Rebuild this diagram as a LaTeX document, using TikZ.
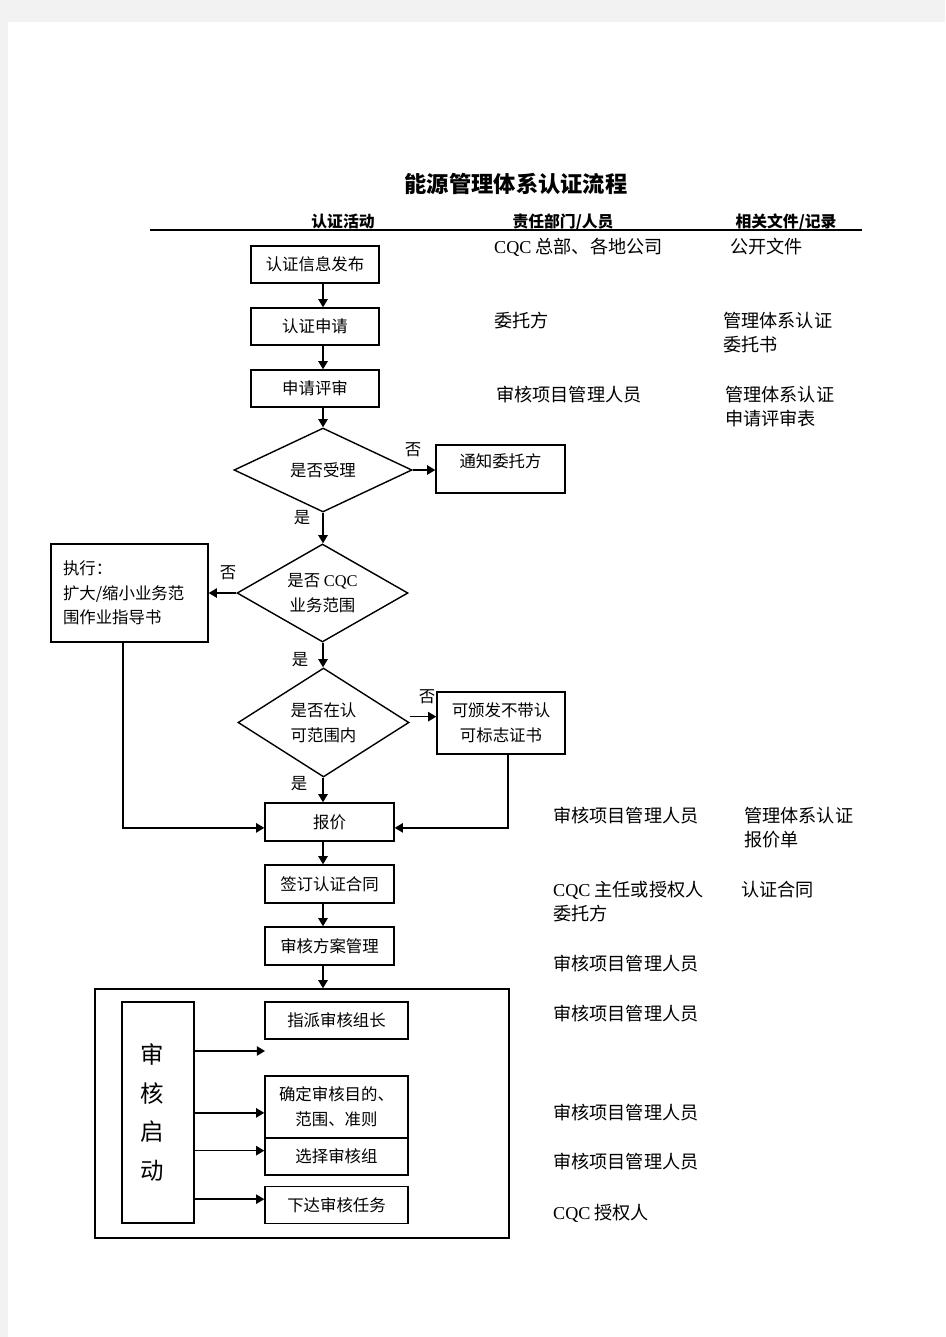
\documentclass[tikz,border=0pt]{standalone}
\usepackage{fontspec}
\setmainfont{Noto Sans CJK SC}
\newfontfamily\serif{Liberation Serif}
\usetikzlibrary{shapes.geometric,arrows.meta}

\begin{document}
\begin{tikzpicture}[x=0.03cm, y=-0.03cm,
		wh/.style 2 args={minimum width=#1*0.03cm, minimum height=#2*0.03cm},
		box/.style={draw, line width=1.2pt, rectangle, inner sep=0pt, align=center, font=\fontsize{14}{21}\selectfont},
		dia/.style={draw, line width=1.2pt, diamond, inner sep=0pt, align=center, font=\fontsize{14}{21}\selectfont},
		flow/.style={line width=1.3pt, -{Triangle[length=7pt, width=8pt]}},
		tag/.style={inner sep=0pt, font=\fontsize{14}{14}\selectfont},
		note/.style={anchor=west, inner sep=0pt, align=left, font=\fontsize{15.5}{20.5}\selectfont},
		head/.style={anchor=base, inner sep=0pt, font=\fontsize{13.5}{13.5}\bfseries}]

		\pgfmathsetmacro{\axis}{323}
		\pgfmathsetmacro{\cola}{553}
		\pgfmathsetmacro{\colb}{744}

		% page
		\useasboundingbox (0,0) rectangle (945,1337);
		\fill[black!5] (0,0) rectangle (945,1337);
		\fill[white] (8,22) rectangle (945,1337);

		% title and header
		\node[inner sep=0pt, font=\fontsize{19}{19}\bfseries] (title) at (516,184) {能源管理体系认证流程};
		\node[head] (hact) at (343,227) {认证活动};
		\node[head] (hdep) at (563,227) {责任部门/人员};
		\node[head] (hdoc) at (786,227) {相关文件/记录};
		\draw[line width=1pt] (150,230) -- (862,230);

		% draw the flow
		\node[box, wh={128}{37}] (publish) at (315,264.5) {认证信息发布};
		\node[box, wh={128}{37}] (apply) at (315,326.5) {认证申请};
		\node[box, wh={128}{37}] (review) at (315,388.5) {申请评审};
		\node[dia, aspect=2.1, wh={178}{84}] (accept) at (\axis,470) {是否受理};
		\node[box, wh={129}{48}, text depth=14pt] (notify) at (500.5,469) {通知委托方};
		\node[dia, aspect=1.74, wh={171}{98}] (business) at (322.5,593) {是否 {\serif CQC}\\业务范围};
		\node[box, wh={157}{98}, align=left, text width=133*0.03cm] (adjust) at (129.5,593) {执行：\\扩大/缩小业务范\\围作业指导书};
		\node[dia, aspect=1.57, wh={171}{109}] (range) at (323.5,722.5) {是否在认\\可范围内};
		\node[box, wh={128}{62}] (mark) at (501,723) {可颁发不带认\\可标志证书};
		\node[box, wh={129}{38}] (quote) at (329.5,822) {报价};
		\node[box, wh={129}{38}] (contract) at (329.5,884) {签订认证合同};
		\node[box, wh={129}{38}] (program) at (329.5,946) {审核方案管理};

		\coordinate (axis) at (\axis,0);
		\coordinate (rangeout) at ([yshift=5pt]range.east);
		\draw[flow] (publish.south -| axis) -- (apply.north -| axis);
		\draw[flow] (apply.south -| axis) -- (review.north -| axis);
		\draw[flow] (review.south -| axis) -- (accept.north);
		\draw[flow] (accept.east) -- (notify.west |- accept.east);
		\draw[flow] (accept.south) -- (business.north -| axis);
		\draw[flow] (business.west) -- (adjust.east |- business.west);
		\draw[flow] (business.south -| axis) -- (range.north -| axis);
		\draw[flow] (rangeout) -- (mark.west |- rangeout);
		\draw[flow] (range.south -| axis) -- (quote.north -| axis);
		\draw[flow] (quote.south -| axis) -- (contract.north -| axis);
		\draw[flow] (contract.south -| axis) -- (program.north -| axis);
		% back to the quote
		\draw[flow] ([xshift=-5.5pt]adjust.south) |- ([yshift=-5pt]quote.west);
		\draw[flow] ([xshift=6pt]mark.south) |- ([yshift=-5pt]quote.east);

		% yes / no
		\node[tag] (no1) at (413,450) {否};
		\node[tag] (yes1) at (302,518) {是};
		\node[tag] (no2) at (228,573) {否};
		\node[tag] (yes2) at (300,660) {是};
		\node[tag] (no3) at (427,697) {否};
		\node[tag] (yes3) at (299,784) {是};

		% draw the audit start block
		\node[draw, line width=1.2pt, inner sep=0pt, wh={414}{249}] (frame) at (302,1113.5) {};
		\draw[flow] (program.south -| axis) -- (frame.north -| axis);
		\node[box, wh={72}{221}, font=\fontsize{20}{33}\selectfont] (launch) at (158,1112.5) {\kern-10pt审\\\kern-10pt核\\\kern-10pt启\\\kern-10pt动};
		\node[box, wh={143}{37}] (leader) at (336.5,1020.5) {指派审核组长};
		\node[box, wh={143}{62}] (aim) at (336.5,1107) {确定审核目的、\\范围、准则};
		\node[box, wh={143}{37}] (team) at (336.5,1156.5) {选择审核组};
		\node[box, wh={143}{37}] (task) at (336.5,1205) {下达审核任务};
		\coordinate (loose) at (265,1051);
		\coordinate (aimin) at ([yshift=-5pt]aim.west);
		\coordinate (teamin) at ([yshift=5pt]team.west);
		\coordinate (taskin) at ([yshift=5pt]task.west);
		\foreach \t in {loose,aimin,teamin,taskin}
			\draw[flow] (launch.east |- \t) -- (\t);

		% departments and documents
		\node[note] (dep1) at (494,247) {{\serif CQC} 总部、各地公司};
		\node[note] (doc1) at (730,247) {公开文件};
		\node[note] (dep2) at (494,321) {委托方};
		\node[note] (doc2) at (723,333) {管理体系认证\\委托书};
		\node[note] (dep3) at (496,395) {审核项目管理人员};
		\node[note] (doc3) at (725,407) {管理体系认证\\申请评审表};
		\node[note] (dep4) at (\cola,816) {审核项目管理人员};
		\node[note] (doc4) at (\colb,828) {管理体系认证\\报价单};
		\node[note] (dep5) at (\cola,902) {{\serif CQC} 主任或授权人\\委托方};
		\node[note] (doc5) at (741,890) {认证合同};
		\foreach \y in {964,1014,1113,1162}
			\node[note] (dep\y) at (\cola,\y) {审核项目管理人员};
		\node[note] (dep6) at (\cola,1213) {{\serif CQC} 授权人};
	\end{tikzpicture}
\end{document}
